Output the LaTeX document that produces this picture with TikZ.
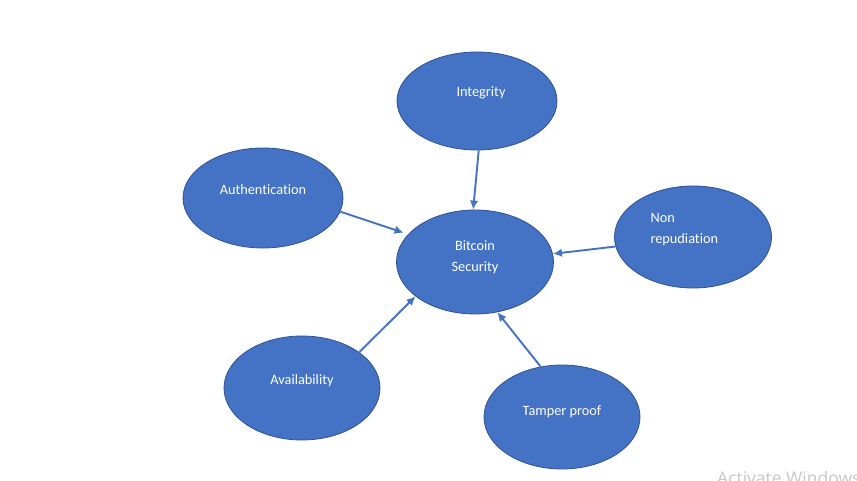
\documentclass[tikz,border=0pt]{standalone}
\usepackage{fontspec}
\setmainfont{Carlito}[Ligatures=NoCommon]
\newfontfamily\wmfont{Open Sans}
\usetikzlibrary{shapes.geometric,arrows.meta,calc}
\definecolor{shapefill}{HTML}{4472C4}
\definecolor{shapeline}{HTML}{2F528F}
\definecolor{arrowcol}{HTML}{4472C4}
\definecolor{wmgray}{HTML}{C8C8C8}
\tikzset{
  bubble/.style={ellipse, draw=shapeline, line width=0.8pt, fill=shapefill,
    minimum width=#1, text=white, font=\fontsize{14.3}{21}\selectfont, align=center, inner sep=0pt},
  conn/.style={draw=arrowcol, line width=1.9pt, -{Latex[length=9pt,width=8.5pt]}},
  lbl/.style={text=white, font=\fontsize{14.3}{21}\selectfont},
}
\begin{document}
\begin{tikzpicture}[x=1pt,y=-1pt]
\useasboundingbox[fill=white] (0,0) rectangle (857,481);
\node[bubble=160pt, minimum height=98pt] (int) at (477,101) {};
\node[bubble=160pt, minimum height=100pt] (auth) at (263,198) {};
\node[bubble=157pt, minimum height=104pt] (bs) at (475,262) {};
\node[bubble=157pt, minimum height=102pt] (nr) at (693,237) {};
\node[bubble=156pt, minimum height=104pt] (av) at (302,388) {};
\node[bubble=156pt, minimum height=104pt] (tp) at (562,417) {};
% labels
\node[lbl] (intl) at (481,93) {Integrity};
\node[lbl] (authl) at (263,190) {Authentication};
\node[lbl, align=center] (bsl) at (475,257) {Bitcoin\\Security};
\node[lbl, align=left, anchor=west] (nrl) at (647,230) {Non\\repudiation};
\node[lbl] (avl) at (302,381) {Availability};
\node[lbl] (tpl) at (562,412) {Tamper proof};
% connectors
\draw[conn] (int.-88) -- (bs.92);
\draw[conn] (auth.-10) -- ($(bs.158)+(-4,-2)$);
\draw[conn] (nr.-173) -- (bs.6);
\draw[conn] (av.32) -- (bs.-150);
\draw[conn] (tp.113) -- (bs.-66);
% watermark
\node[text=wmgray, font=\wmfont\fontsize{17.5}{20}\selectfont, anchor=base west, inner sep=0pt] (wm) at (717,484) {Activate Windows};
\end{tikzpicture}
\end{document}
